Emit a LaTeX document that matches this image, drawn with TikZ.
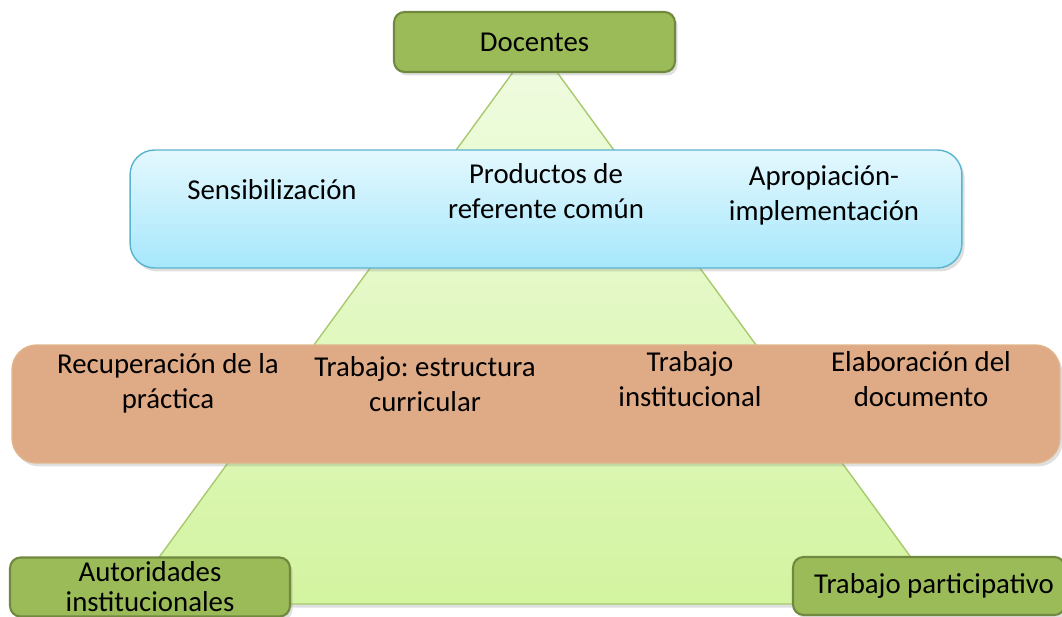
\documentclass[tikz,border=0pt]{standalone}
\usepackage{fontspec}
\setmainfont{Carlito}
\frenchspacing
\usetikzlibrary{shadows}
\definecolor{boxgreen}{HTML}{9BBB59}
\definecolor{boxgreenline}{HTML}{71893F}
\definecolor{pyrtop}{HTML}{F0FCE2}
\definecolor{pyrbottom}{HTML}{D3F4A0}
\definecolor{pyrline}{HTML}{A9C96E}
\definecolor{bluetop}{HTML}{E4F8FE}
\definecolor{bluebottom}{HTML}{A6E7FC}
\definecolor{blueline}{HTML}{5AB4CF}
\definecolor{orangefill}{HTML}{DFAA86}
\definecolor{orangeline}{HTML}{E2B48A}
\begin{document}
\begin{tikzpicture}[
    x=0.02cm, y=-0.02cm,
    font=\fontsize{16.4}{20}\selectfont,
    greenbox/.style={rectangle, draw=boxgreenline, line width=1.2pt, fill=boxgreen, rounded corners=6pt, inner sep=0pt, align=center},
    stagebox/.style={rectangle, rounded corners=14pt, line width=0.8pt, minimum height=2.36cm, inner sep=0pt},
    label/.style={align=center, inner sep=0pt},
    shade/.style={drop shadow={opacity=0.25, shadow xshift=1.5pt, shadow yshift=-2pt}}
]
\useasboundingbox (0,0) rectangle (1062,617);

% pyramid
\path[draw=pyrline, line width=0.8pt, top color=pyrtop, bottom color=pyrbottom, shade]
    (535,42) -- (945,604) -- (125,604) -- cycle;

% stages
\node[stagebox, shade, draw=blueline, top color=bluetop, bottom color=bluebottom, minimum width=16.64cm] (stageone) at (546,209) {};
\node[stagebox, shade, draw=orangeline, fill=orangefill, minimum width=20.96cm] (stagetwo) at (536,404) {};

% actors
\node[greenbox, shade, minimum width=5.62cm, minimum height=1.2cm] (docentes) at (534.5,42) {Docentes};
\node[greenbox, shade, minimum width=5.6cm, minimum height=1.18cm, font=\fontsize{16.4}{17}\selectfont] (autoridades) at (150,587) {Autoridades\\institucionales};
\node[greenbox, shade, minimum width=5.44cm, minimum height=1.16cm] (participativo) at (929,586) {\hspace*{0.2cm}Trabajo participativo};

% labels, upper stage
\node[label] (sensib) at (272,190) {Sensibilización};
\node[label] (productos) at (546,191) {Productos de\\referente común};
\node[label] (apropiacion) at (824,195) {Apropiación-\\implementación};

% labels, lower stage
\node[label] (recuperacion) at (168,383) {Recuperación de la\\práctica};
\node[label] (estructura) at (425,384) {Trabajo: estructura\\curricular};
\node[label] (institucional) at (690,379) {Trabajo\\institucional};
\node[label] (elaboracion) at (921,379) {Elaboración del\\documento};

\end{tikzpicture}
\end{document}
